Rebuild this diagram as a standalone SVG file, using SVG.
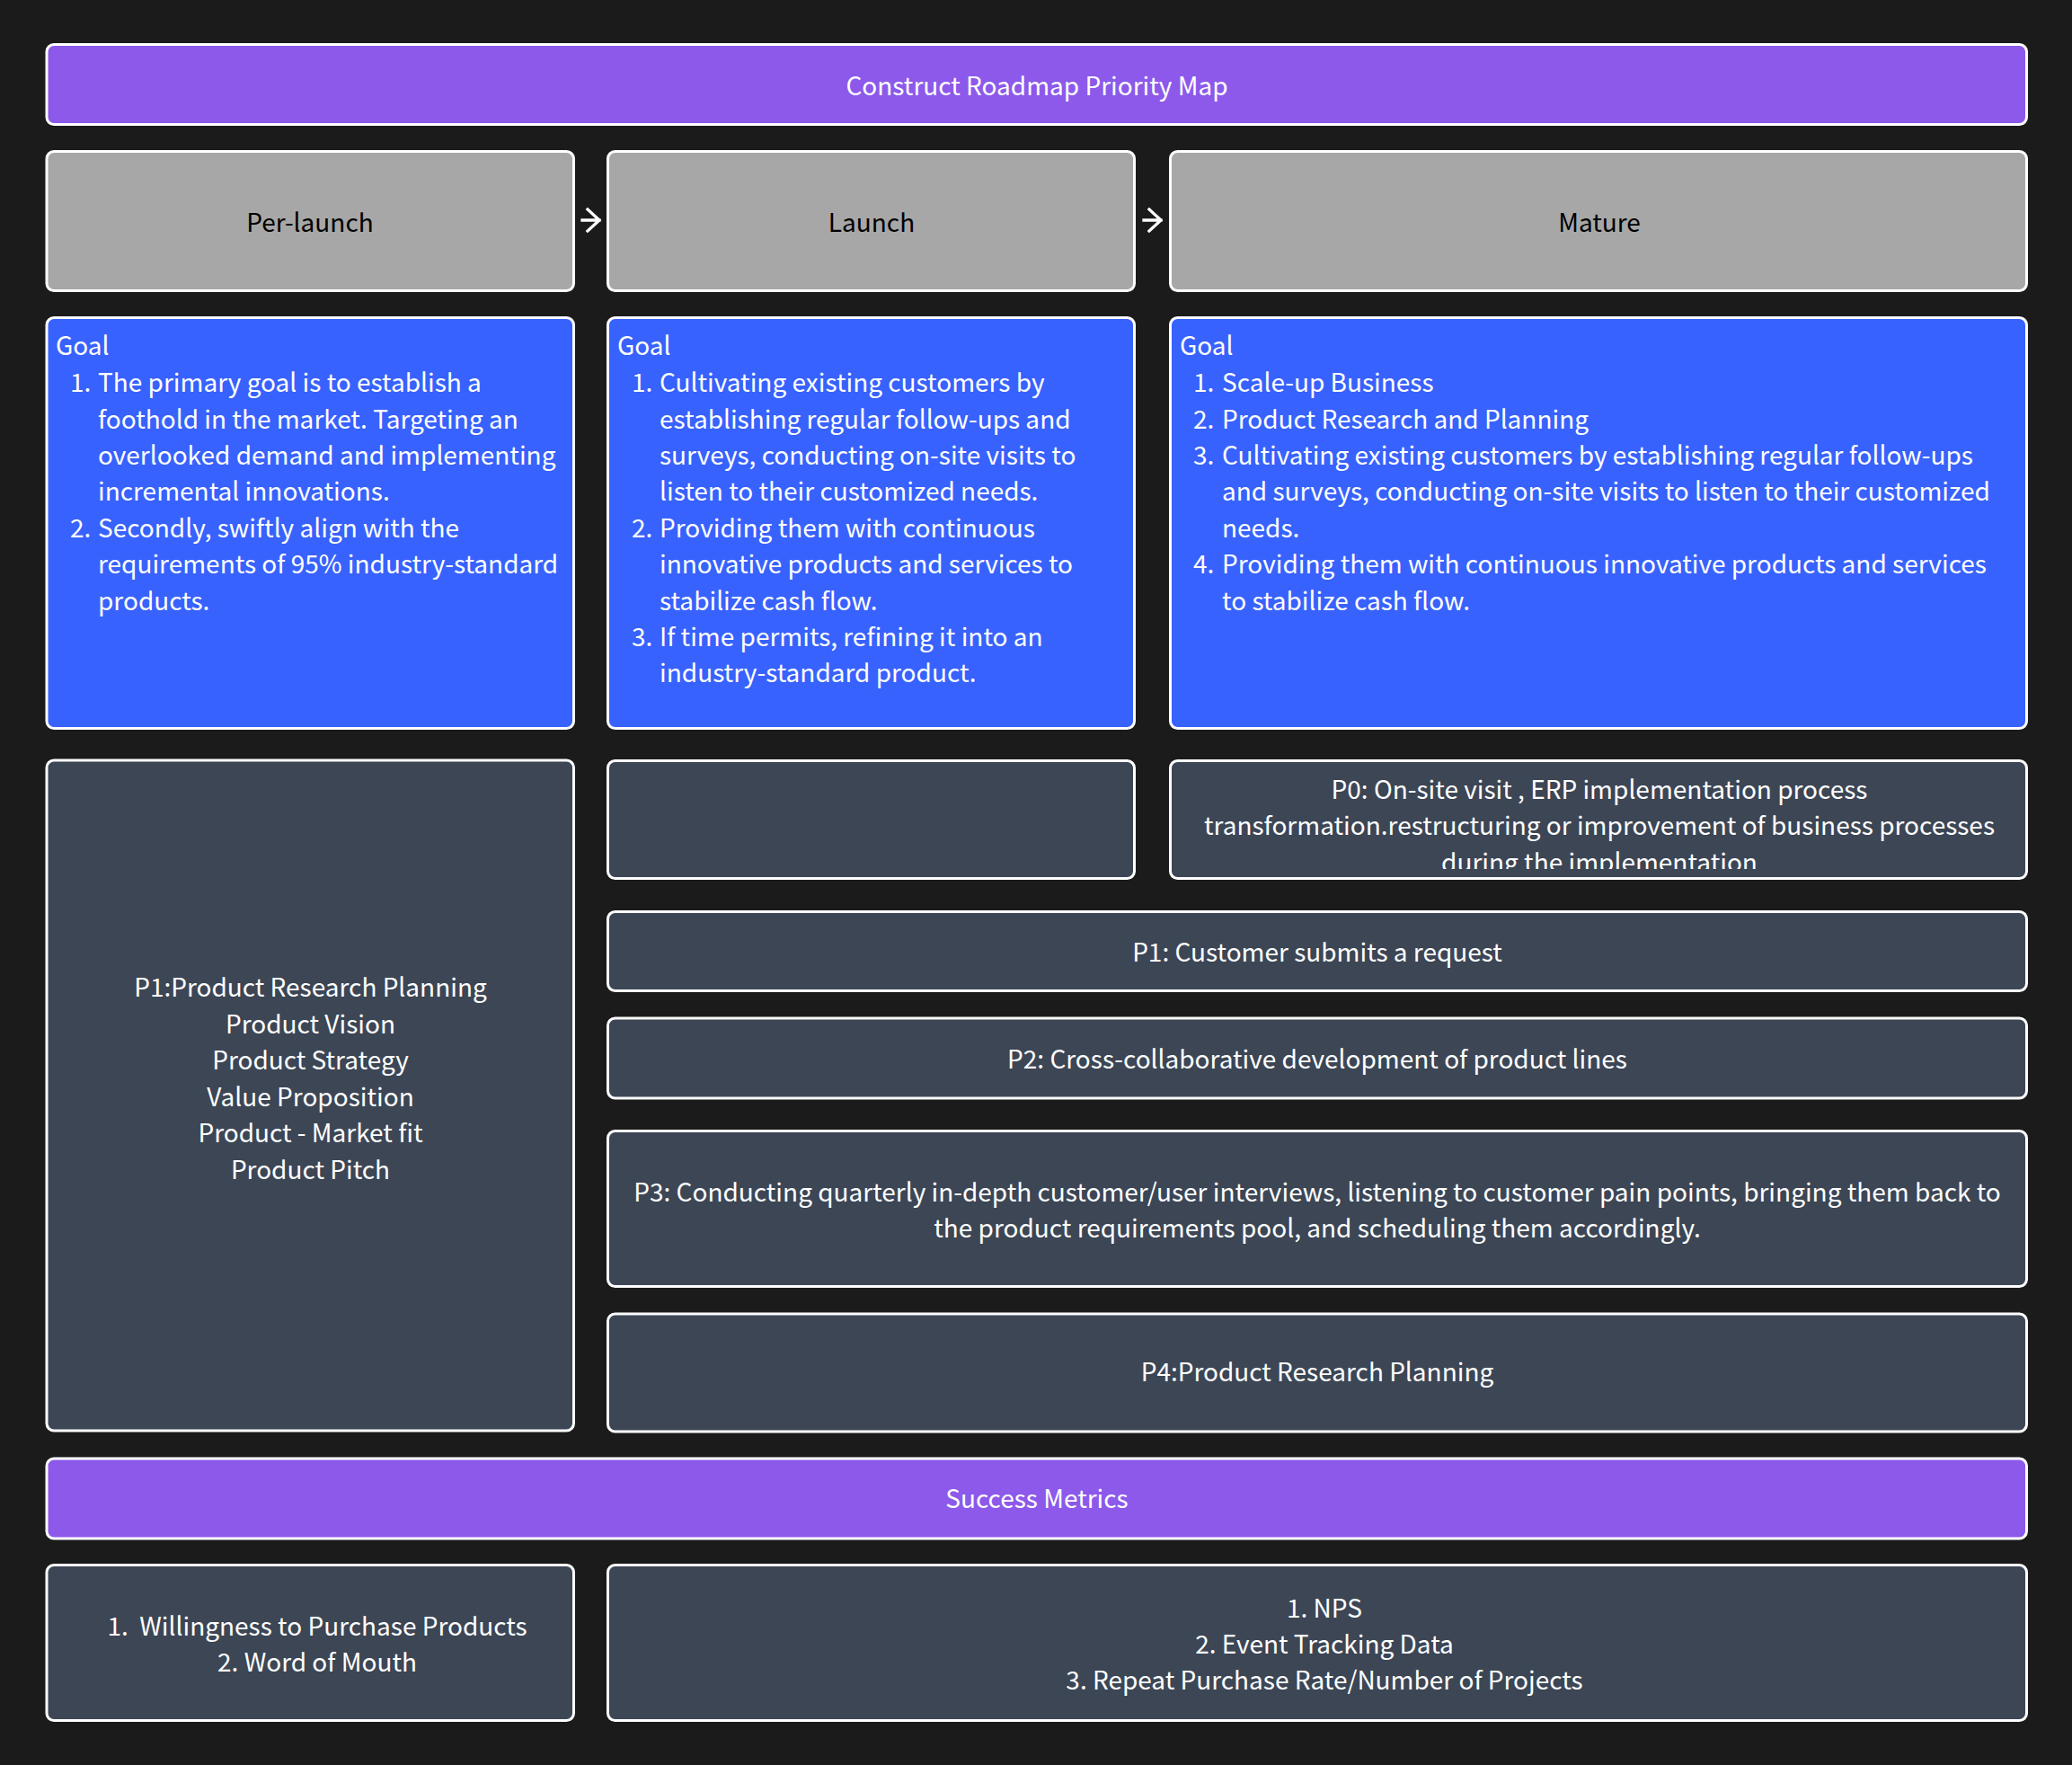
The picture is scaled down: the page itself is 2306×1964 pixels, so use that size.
<svg xmlns="http://www.w3.org/2000/svg" width="2306" height="1964" viewBox="0 0 2306 1964">
<style>
.bg{fill:#1b1b1b}
.box{stroke:#ffffff;stroke-width:3}
.purple{fill:#8c59ea}
.gray{fill:#a7a7a7}
.blue{fill:#3862fd}
.dark{fill:#3c4655}
text{font-family:"Noto Sans CJK SC","Source Sans Pro","Liberation Sans",sans-serif;font-size:28px;fill:#ffffff}
.c{text-anchor:middle}
.k{fill:#000000}
.conn{stroke:#ffffff;stroke-width:3.3;fill:none;stroke-linecap:square}
</style>
<defs>
<clipPath id="clipP0"><rect x="1305" y="848" width="949" height="119"/></clipPath>
</defs>
<rect class="bg" x="0" y="0" width="2306" height="1964"/>
<g id="title">
<rect class="box purple" x="52" y="49.5" width="2203.5" height="89" rx="8"/>
<text class="c" x="1154" y="106">Construct Roadmap Priority Map</text>
</g>
<g id="stage-prelaunch">
<rect class="box gray" x="52" y="168.5" width="586.5" height="155" rx="8"/>
<text class="c k" x="345" y="258">Per-launch</text>
</g>
<g id="stage-launch">
<rect class="box gray" x="676.5" y="168.5" width="586" height="155" rx="8"/>
<text class="c k" x="970" y="258">Launch</text>
</g>
<g id="stage-mature">
<rect class="box gray" x="1302.5" y="168.5" width="953" height="155" rx="8"/>
<text class="c k" x="1780" y="258">Mature</text>
</g>
<g id="connectors">
<path class="conn" d="M648 245 H667 M654 233 L667 245 L654 257"/>
<path class="conn" d="M1273 245 H1292 M1279 233 L1292 245 L1279 257"/>
</g>
<g id="goal-prelaunch">
<rect class="box blue" x="52" y="353.5" width="586.5" height="457" rx="8"/>
<text x="62" y="395">Goal</text>
<text x="78" y="436">1.</text>
<text x="109" y="436">The primary goal is to establish a</text>
<text x="109" y="476.5">foothold in the market. Targeting an</text>
<text x="109" y="517">overlooked demand and implementing</text>
<text x="109" y="557">incremental innovations.</text>
<text x="78" y="597.5">2.</text>
<text x="109" y="597.5">Secondly, swiftly align with the</text>
<text x="109" y="638">requirements of 95% industry-standard</text>
<text x="109" y="678.5">products.</text>
</g>
<g id="goal-launch">
<rect class="box blue" x="676.5" y="353.5" width="586" height="457" rx="8"/>
<text x="687" y="395">Goal</text>
<text x="703" y="436">1.</text>
<text x="734" y="436">Cultivating existing customers by</text>
<text x="734" y="476.5">establishing regular follow-ups and</text>
<text x="734" y="517">surveys, conducting on-site visits to</text>
<text x="734" y="557">listen to their customized needs.</text>
<text x="703" y="597.5">2.</text>
<text x="734" y="597.5">Providing them with continuous</text>
<text x="734" y="638">innovative products and services to</text>
<text x="734" y="678.5">stabilize cash flow.</text>
<text x="703" y="719">3.</text>
<text x="734" y="719">If time permits, refining it into an</text>
<text x="734" y="759">industry-standard product.</text>
</g>
<g id="goal-mature">
<rect class="box blue" x="1302.5" y="353.5" width="953" height="457" rx="8"/>
<text x="1313" y="395">Goal</text>
<text x="1328" y="436">1.</text>
<text x="1360" y="436">Scale-up Business</text>
<text x="1328" y="476.5">2.</text>
<text x="1360" y="476.5">Product Research and Planning</text>
<text x="1328" y="517">3.</text>
<text x="1360" y="517">Cultivating existing customers by establishing regular follow-ups</text>
<text x="1360" y="557">and surveys, conducting on-site visits to listen to their customized</text>
<text x="1360" y="597.5">needs.</text>
<text x="1328" y="638">4.</text>
<text x="1360" y="638">Providing them with continuous innovative products and services</text>
<text x="1360" y="678.5">to stabilize cash flow.</text>
</g>
<g id="p1-prelaunch">
<rect class="box dark" x="52" y="846" width="586.5" height="746" rx="8"/>
<text class="c" x="345.5" y="1109">P1:Product Research Planning</text>
<text class="c" x="345.5" y="1149.5">Product Vision</text>
<text class="c" x="345.5" y="1190">Product Strategy</text>
<text class="c" x="345.5" y="1230.5">Value Proposition</text>
<text class="c" x="345.5" y="1271">Product - Market fit</text>
<text class="c" x="345.5" y="1311.5">Product Pitch</text>
</g>
<g id="p0-launch">
<rect class="box dark" x="676.5" y="846.5" width="586" height="131" rx="8"/>
</g>
<g id="p0-mature">
<rect class="box dark" x="1302.5" y="846.5" width="953" height="131" rx="8"/>
<g clip-path="url(#clipP0)">
<text class="c" x="1780" y="888.5">P0: On-site visit , ERP implementation process</text>
<text class="c" x="1780" y="929">transformation.restructuring or improvement of business processes</text>
<text class="c" x="1780" y="969.5">during the implementation</text>
</g>
</g>
<g id="p1">
<rect class="box dark" x="676.5" y="1014.5" width="1579" height="88" rx="8"/>
<text class="c" x="1466" y="1070">P1: Customer submits a request</text>
</g>
<g id="p2">
<rect class="box dark" x="676.5" y="1133" width="1579" height="89" rx="8"/>
<text class="c" x="1466" y="1188.5">P2: Cross-collaborative development of product lines</text>
</g>
<g id="p3">
<rect class="box dark" x="676.5" y="1258.5" width="1579" height="173" rx="8"/>
<text class="c" x="1466" y="1336.5">P3: Conducting quarterly in-depth customer/user interviews, listening to customer pain points, bringing them back to</text>
<text class="c" x="1466" y="1377">the product requirements pool, and scheduling them accordingly.</text>
</g>
<g id="p4">
<rect class="box dark" x="676.5" y="1462" width="1579" height="131" rx="8"/>
<text class="c" x="1466" y="1537">P4:Product Research Planning</text>
</g>
<g id="success">
<rect class="box purple" x="52" y="1623" width="2203.5" height="89" rx="8"/>
<text class="c" x="1154" y="1678">Success Metrics</text>
</g>
<g id="metrics-prelaunch">
<rect class="box dark" x="52" y="1741.5" width="586.5" height="173" rx="8"/>
<text class="c" x="353" y="1819.5" xml:space="preserve">1.  Willingness to Purchase Products</text>
<text class="c" x="353" y="1859.5">2. Word of Mouth</text>
</g>
<g id="metrics-launch-mature">
<rect class="box dark" x="676.5" y="1741.5" width="1579" height="173" rx="8"/>
<text class="c" x="1474" y="1799.5">1. NPS</text>
<text class="c" x="1474" y="1839.5">2. Event Tracking Data</text>
<text class="c" x="1474" y="1879.5">3. Repeat Purchase Rate/Number of Projects</text>
</g>
</svg>
